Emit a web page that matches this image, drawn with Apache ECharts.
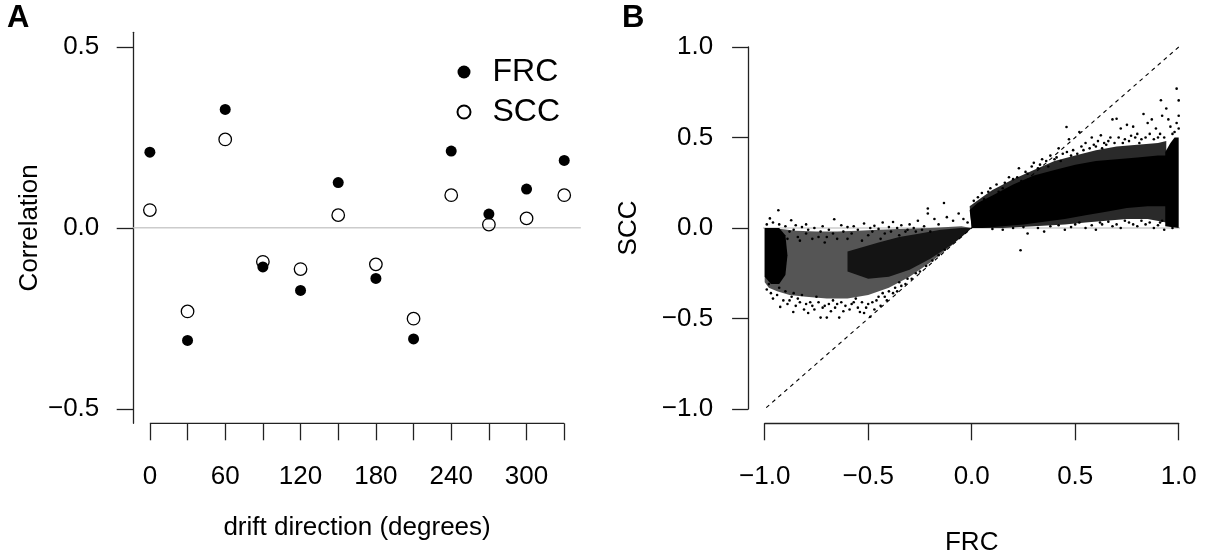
<!DOCTYPE html>
<html>
<head>
<meta charset="utf-8">
<title>FRC / SCC correlation</title>
<script src="https://cdn.jsdelivr.net/npm/echarts@6/dist/echarts.min.js"></script>
<style>
  html, body { margin: 0; padding: 0; background: #fff; }
  #chart { width: 1205px; height: 560px; }
</style>
</head>
<body>
<div id="chart"></div>
<script>
// ---- panel A: correlation by drift direction ----
var driftDeg = [0, 30, 60, 90, 120, 150, 180, 210, 240, 270, 300, 330];
var frcByDrift = [0.209, -0.311, 0.327, -0.108, -0.173, 0.125, -0.140, -0.307, 0.212, 0.038, 0.107, 0.186];
var sccByDrift = [0.049, -0.231, 0.244, -0.094, -0.114, 0.035, -0.101, -0.251, 0.090, 0.009, 0.026, 0.090];
var driftLabels = [0, 60, 120, 180, 240, 300];
var corrTicks = [-0.5, 0, 0.5];
var zeroSpanA = [-13.2, 343.2];

// ---- panel B: SCC against FRC ----
var frcTicks = [-1, -0.5, 0, 0.5, 1];
var sccTicks = [-1, -0.5, 0, 0.5, 1];
var diagEnds = [-1.08, 1.08];

// outlines of the crowded parts of the cloud
var midNeg = [[-1.0,0.0],[-0.92,-0.005],[-0.85,-0.015],[-0.75,-0.02],[-0.65,-0.02],[-0.55,-0.015],[-0.45,-0.01],[-0.35,-0.005],[-0.2,0.0],[-0.05,0.01],[0.0,0.0],
  [-0.1,-0.1],[-0.2,-0.19],[-0.3,-0.27],[-0.4,-0.33],[-0.5,-0.37],[-0.6,-0.39],[-0.7,-0.39],[-0.8,-0.38],[-0.88,-0.37],[-0.94,-0.35],[-0.98,-0.33],[-1.0,-0.3]];
var midPos = [[0.0,0.0],[-0.01,0.12],[0.05,0.17],[0.1,0.21],[0.2,0.27],[0.3,0.32],[0.4,0.37],[0.5,0.4],[0.6,0.43],[0.7,0.45],[0.8,0.46],[0.9,0.47],[0.94,0.48],
  [0.94,0.03],[0.85,0.05],[0.75,0.05],[0.65,0.04],[0.55,0.03],[0.45,0.02],[0.3,0.01],[0.15,0.0]];
var coreStripL = [[-1.0,0.0],[-0.93,0.0],[-0.9,-0.04],[-0.89,-0.15],[-0.9,-0.26],[-0.93,-0.31],[-0.97,-0.31],[-1.0,-0.27]];
var coreBandNeg = [[-0.6,-0.13],[-0.45,-0.08],[-0.35,-0.05],[-0.25,-0.03],[-0.15,-0.01],[-0.05,0.0],[0.0,0.0],
  [-0.04,-0.04],[-0.1,-0.095],[-0.2,-0.17],[-0.3,-0.23],[-0.4,-0.27],[-0.5,-0.28],[-0.6,-0.24]];
var corePos = [[0.0,0.0],[-0.01,0.1],[0.03,0.14],[0.1,0.18],[0.2,0.24],[0.3,0.29],[0.4,0.32],[0.5,0.35],[0.6,0.37],[0.7,0.38],[0.8,0.39],[0.9,0.4],[0.94,0.4],
  [0.94,0.12],[0.85,0.12],[0.75,0.11],[0.65,0.09],[0.55,0.07],[0.45,0.05],[0.35,0.035],[0.25,0.02],[0.15,0.01],[0.05,0.0]];
var coreStripR = [[0.935,0.01],[0.935,0.42],[0.96,0.47],[0.98,0.5],[1.0,0.5],[1.0,0.0]];

// loose points around the edges, [FRC, SCC]
var loosePoints = [
  [-0.975,0.053],[-0.934,0.098],[-0.96,0.03],[-0.99,0.02],[-0.93,0.02],[-0.9,0.01],[-0.872,0.043],[-0.85,0.015],[-0.82,0.005],[-0.8,0.02],
  [-0.76,0.0],[-0.72,0.01],[-0.664,0.048],[-0.63,0.015],[-0.6,0.005],[-0.57,0.01],[-0.52,0.025],[-0.49,0.0],[-0.47,0.012],[-0.43,0.03],
  [-0.4,0.005],[-0.38,0.033],[-0.34,0.015],[-0.3,0.02],[-0.28,0.0],[-0.26,0.04],[-0.23,0.01],[-0.212,0.108],[-0.212,0.08],[-0.18,0.05],
  [-0.16,0.02],[-0.134,0.138],[-0.12,0.06],[-0.09,0.04],[-0.063,0.08],[-0.04,0.05],[-0.02,0.03],
  [-0.88,-0.02],[-0.84,-0.05],[-0.8,-0.03],[-0.77,-0.06],[-0.73,-0.02],[-0.7,-0.05],[-0.67,-0.03],[-0.62,-0.02],[-0.6,-0.06],
  [-0.55,-0.01],[-0.5,-0.04],[-0.45,-0.005],[-0.42,-0.03],[-0.36,0.0],[-0.32,-0.02],
  [-0.89,-0.06],[-0.86,-0.01],[-0.83,-0.07],[-0.79,-0.01],[-0.74,-0.05],[-0.71,-0.08],[-0.69,-0.01],[-0.65,-0.06],[-0.58,-0.03],[-0.53,-0.07],
  [-0.48,-0.02],[-0.44,-0.06],[-0.39,-0.02],[-0.35,-0.04],[-0.31,-0.01],[-0.27,-0.02],[-0.24,-0.01],[-0.2,-0.02],
  [-0.99,-0.34],[-0.98,-0.31],[-0.97,-0.36],[-0.96,-0.39],[-0.94,-0.37],[-0.925,-0.436],[-0.91,-0.4],[-0.9,-0.35],[-0.89,-0.42],[-0.87,-0.38],
  [-0.862,-0.464],[-0.85,-0.43],[-0.83,-0.41],[-0.82,-0.37],[-0.81,-0.45],[-0.79,-0.47],[-0.78,-0.41],[-0.77,-0.43],[-0.75,-0.38],[-0.73,-0.495],
  [-0.72,-0.44],[-0.7,-0.495],[-0.69,-0.42],[-0.68,-0.46],[-0.66,-0.44],[-0.64,-0.495],[-0.63,-0.41],[-0.61,-0.43],[-0.59,-0.45],[-0.57,-0.41],
  [-0.55,-0.44],[-0.54,-0.464],[-0.52,-0.47],[-0.5,-0.42],[-0.49,-0.49],[-0.47,-0.45],[-0.46,-0.4],[-0.44,-0.43],[-0.42,-0.38],[-0.41,-0.4],
  [-0.38,-0.36],[-0.36,-0.35],[-0.34,-0.32],[-0.32,-0.31],[-0.29,-0.28],[-0.27,-0.25],[-0.25,-0.24],[-0.22,-0.21],[-0.19,-0.18],[-0.16,-0.15],[-0.13,-0.12],
  [-0.93,-0.33],[-0.88,-0.4],[-0.86,-0.36],[-0.84,-0.39],[-0.8,-0.42],[-0.76,-0.45],[-0.74,-0.41],[-0.71,-0.43],[-0.67,-0.4],[-0.65,-0.42],
  [-0.62,-0.46],[-0.58,-0.42],[-0.56,-0.39],[-0.53,-0.41],[-0.51,-0.44],[-0.48,-0.41],[-0.45,-0.38],[-0.43,-0.36],[-0.4,-0.35],[-0.37,-0.33],
  [-0.35,-0.3],[-0.31,-0.28],
  [0.01,0.15],[0.049,0.193],[0.08,0.2],[0.12,0.24],[0.15,0.22],[0.18,0.28],[0.2,0.27],[0.228,0.33],[0.26,0.31],[0.29,0.34],
  [0.3,0.36],[0.34,0.38],[0.36,0.37],[0.38,0.4],[0.4,0.38],[0.42,0.44],[0.44,0.41],[0.458,0.558],[0.47,0.49],[0.49,0.43],
  [0.52,0.53],[0.53,0.45],[0.55,0.47],[0.58,0.5],[0.6,0.45],[0.624,0.512],[0.64,0.47],[0.66,0.48],[0.68,0.6],[0.7,0.604],
  [0.71,0.5],[0.72,0.55],[0.74,0.49],[0.75,0.57],[0.77,0.51],[0.78,0.56],[0.8,0.52],[0.82,0.49],[0.83,0.63],[0.85,0.58],
  [0.86,0.52],[0.87,0.6],[0.89,0.55],[0.9,0.5],[0.914,0.706],[0.92,0.62],[0.94,0.66],[0.95,0.6],[0.96,0.56],[0.97,0.52],
  [0.99,0.77],[1.0,0.705],[1.0,0.62],[0.99,0.58],[1.0,0.55],[0.98,0.53],
  [0.03,0.17],[0.06,0.16],[0.09,0.22],[0.13,0.2],[0.16,0.25],[0.22,0.28],[0.24,0.26],[0.27,0.3],[0.32,0.33],[0.33,0.35],
  [0.37,0.34],[0.41,0.39],[0.43,0.37],[0.46,0.42],[0.48,0.4],[0.51,0.41],[0.54,0.43],[0.57,0.44],[0.59,0.46],[0.61,0.48],
  [0.63,0.44],[0.65,0.46],[0.67,0.5],[0.69,0.47],[0.73,0.47],[0.76,0.48],[0.79,0.5],[0.81,0.47],[0.84,0.5],[0.88,0.49],
  [0.91,0.52],[0.93,0.5],
  [0.236,-0.123],[0.27,-0.03],[0.15,-0.01],[0.2,0.0],[0.35,-0.02],[0.38,0.01],[0.45,-0.01],[0.5,0.02],[0.55,0.0],[0.6,-0.01],
  [0.63,0.02],[0.68,0.01],[0.72,0.0],[0.76,0.03],[0.8,0.01],[0.84,0.02],[0.88,0.0],[0.91,0.03],[0.93,-0.01],[0.97,0.0],
  [0.1,-0.005],[0.25,0.005],[0.32,0.0],[0.42,0.015],[0.48,0.005],[0.52,0.03],[0.58,0.015],[0.62,0.03],[0.66,0.035],[0.7,0.02],
  [0.74,0.04],[0.78,0.02],[0.82,0.04],[0.86,0.03],[0.9,0.015],[0.92,0.04]
];

var FONT = 'Liberation Sans, Arial, Helvetica, sans-serif';
var AXIS_COL = '#222';

function fmt(v) {
  return (v < 0 ? '\u2212' : '') + Math.abs(v).toFixed(1);
}

function axisBase(extra) {
  var base = {
    type: 'value',
    splitLine: { show: false },
    axisLine: { show: true, onZero: false, lineStyle: { color: AXIS_COL, width: 1.3 } },
    axisTick: { show: true, inside: false, lineStyle: { color: AXIS_COL, width: 1.3 } },
    axisLabel: { color: '#000', fontSize: 26, fontFamily: FONT },
    nameLocation: 'middle',
    nameMoveOverlap: false,
    nameTextStyle: { color: '#000', fontSize: 26, fontFamily: FONT }
  };
  for (var k in extra) {
    if (typeof extra[k] === 'object' && base[k] && !Array.isArray(extra[k])) {
      base[k] = Object.assign({}, base[k], extra[k]);
    } else {
      base[k] = extra[k];
    }
  }
  return base;
}

// filled outline drawn through the axes of panel B
function cloudPatch(outline, fill) {
  return {
    type: 'custom',
    xAxisIndex: 1, yAxisIndex: 1,
    data: outline,
    silent: true,
    clip: false,
    z: 2,
    renderItem: function (params, api) {
      if (params.dataIndex !== 0) return null;
      var pts = outline.map(function (p) { return api.coord(p); });
      return { type: 'polygon', shape: { points: pts }, style: { fill: fill } };
    }
  };
}

var chart = echarts.init(document.getElementById('chart'));

var option = {
  backgroundColor: '#fff',
  animation: false,
  textStyle: { fontFamily: FONT },
  title: [
    { text: 'A', left: 7, top: 3, padding: 0, textStyle: { fontSize: 31, fontWeight: 'bold', color: '#000', fontFamily: FONT } },
    { text: 'B', left: 622, top: 3, padding: 0, textStyle: { fontSize: 31, fontWeight: 'bold', color: '#000', fontFamily: FONT } }
  ],
  legend: {
    data: ['FRC', 'SCC'],
    orient: 'vertical',
    left: 456.5,
    top: 56,
    padding: 0,
    itemWidth: 13,
    itemHeight: 13,
    itemGap: 8,
    selectedMode: false,
    textStyle: { fontSize: 32, color: '#000', fontFamily: FONT, padding: [0, 0, 0, 17] }
  },
  grid: [
    { left: 133.3, right: 1205 - 580.8, top: 32.3, bottom: 560 - 423.3, outerBoundsMode: 'none', containLabel: false },
    { left: 764.7, right: 1205 - 1178.7, top: 47, bottom: 560 - 409, outerBoundsMode: 'none', containLabel: false }
  ],
  xAxis: [
    axisBase({
      gridIndex: 0, min: zeroSpanA[0], max: zeroSpanA[1],
      axisLine: { show: false },
      axisTick: { length: 17, customValues: driftDeg },
      axisLabel: { customValues: driftLabels, margin: 41 },
      name: 'drift direction (degrees)', nameGap: 92
    }),
    axisBase({
      gridIndex: 1, min: -1, max: 1, offset: 14.3,
      axisTick: { length: 17, customValues: frcTicks },
      axisLabel: { customValues: frcTicks, margin: 41, formatter: fmt },
      name: 'FRC', nameGap: 107
    })
  ],
  yAxis: [
    axisBase({
      gridIndex: 0, min: -0.54, max: 0.54,
      axisTick: { length: 16.6, customValues: corrTicks },
      axisLabel: { customValues: corrTicks, margin: 34, formatter: fmt },
      name: 'Correlation', nameGap: 90
    }),
    axisBase({
      gridIndex: 1, min: -1, max: 1, offset: 16.6,
      axisTick: { length: 16, customValues: sccTicks },
      axisLabel: { customValues: sccTicks, margin: 35, formatter: fmt },
      name: 'SCC', nameGap: 106
    })
  ],
  series: [
    // panel A
    {
      type: 'line', xAxisIndex: 0, yAxisIndex: 0, silent: true, clip: false, z: 1,
      data: [[zeroSpanA[0], 0], [zeroSpanA[1], 0]],
      symbol: 'none', lineStyle: { color: '#cccccc', width: 1.5 }
    },
    {
      // bottom axis line only from first to last tick
      type: 'line', xAxisIndex: 0, yAxisIndex: 0, silent: true, clip: false, z: 1,
      data: [[driftDeg[0], -0.54], [driftDeg[driftDeg.length - 1], -0.54]],
      symbol: 'none', lineStyle: { color: AXIS_COL, width: 1.3 }
    },
    {
      name: 'FRC', type: 'scatter', xAxisIndex: 0, yAxisIndex: 0, clip: false, z: 3,
      data: driftDeg.map(function (d, i) { return [d, frcByDrift[i]]; }),
      symbol: 'circle', symbolSize: 11,
      itemStyle: { color: '#000', opacity: 1 }
    },
    {
      name: 'SCC', type: 'scatter', xAxisIndex: 0, yAxisIndex: 0, clip: false, z: 4,
      data: driftDeg.map(function (d, i) { return [d, sccByDrift[i]]; }),
      symbol: 'circle', symbolSize: 12.5,
      itemStyle: { color: 'rgba(255,255,255,0)', borderColor: '#000', borderWidth: 1.3, opacity: 1 }
    },
    // panel B
    {
      type: 'line', xAxisIndex: 1, yAxisIndex: 1, silent: true, clip: false, z: 1,
      data: [[diagEnds[0], 0], [diagEnds[1], 0]],
      symbol: 'none', lineStyle: { color: '#cccccc', width: 1.5 }
    },
    cloudPatch(midNeg, '#555555'),
    cloudPatch(midPos, '#2a2a2a'),
    cloudPatch(coreStripL, '#000'),
    cloudPatch(coreBandNeg, '#141414'),
    cloudPatch(corePos, '#000'),
    cloudPatch(coreStripR, '#000'),
    {
      type: 'scatter', xAxisIndex: 1, yAxisIndex: 1, clip: false, silent: true, z: 3,
      data: loosePoints, symbol: 'circle', symbolSize: 2.6,
      itemStyle: { color: '#000', opacity: 1 }
    },
    {
      type: 'line', xAxisIndex: 1, yAxisIndex: 1, silent: true, clip: false, z: 5,
      data: [[diagEnds[0], diagEnds[0]], [diagEnds[1], diagEnds[1]]],
      symbol: 'none', lineStyle: { color: '#000', width: 1.1, type: [4, 4] }
    }
  ]
};

chart.setOption(option);
</script>
</body>
</html>
